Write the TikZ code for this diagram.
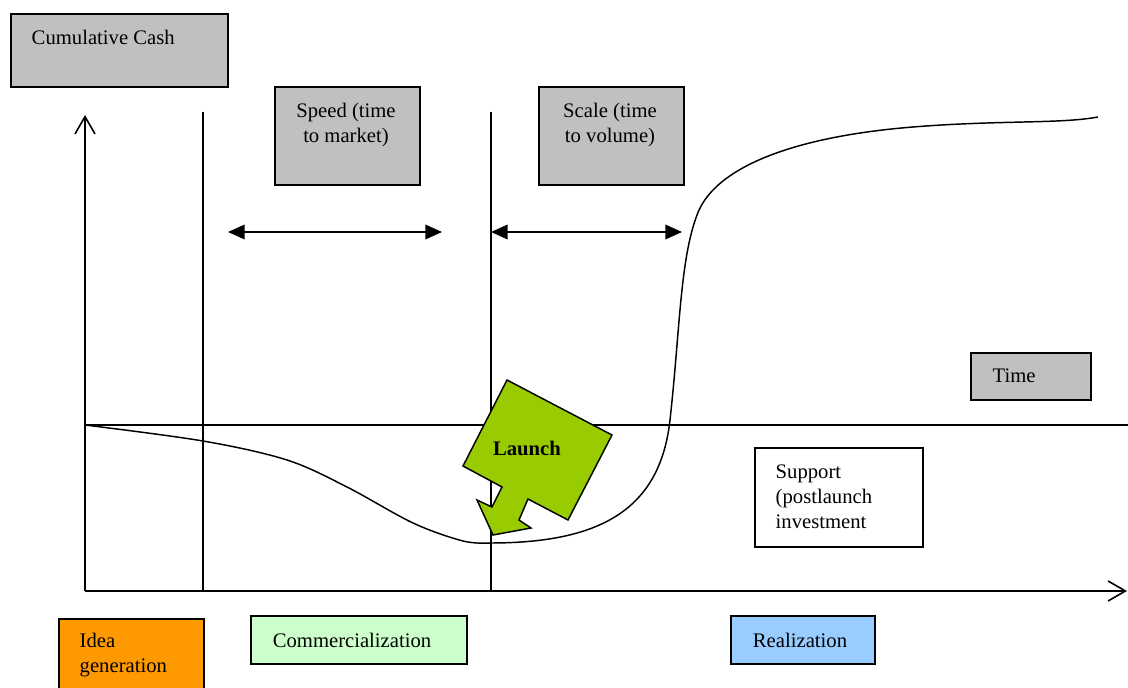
\documentclass[tikz,border=0pt]{standalone}
\usepackage{fontspec}
\setmainfont{Liberation Serif}
\usetikzlibrary{arrows.meta}
\definecolor{boxgray}{HTML}{C0C0C0}
\definecolor{ideaorange}{HTML}{FF9900}
\definecolor{commgreen}{HTML}{CCFFCC}
\definecolor{realblue}{HTML}{99CCFF}
\definecolor{launchgreen}{HTML}{99CC00}
\begin{document}
\begin{tikzpicture}[x=0.75pt,y=-0.75pt,line width=1.1pt,
  every node/.style={font=\fontsize{15.5}{18.6}\selectfont},
  panel/.style={draw,line width=1.3pt,inner sep=0pt,anchor=north west},
  lbl/.style={inner sep=0pt,align=left},
  clbl/.style={inner sep=0pt,align=center},
  axis/.style={-{Straight Barb[length=13pt,width=15pt]},line width=1.2pt},
  span/.style={{Triangle[length=12.5pt,width=11pt]}-{Triangle[length=12.5pt,width=11pt]},line width=1.1pt},
  curve/.style={line width=1.1pt}]
\clip (0,0) rectangle (1128,688);

% boxes
\node[panel,fill=boxgray,minimum width=162.75pt,minimum height=54.75pt] (cash) at (10,13) {};
\node[lbl,anchor=base west] (cashtxt) at (31,45) {Cumulative Cash};
\node[panel,fill=boxgray,minimum width=108.75pt,minimum height=73.5pt] (speed) at (274,86) {};
\node[clbl] (speedtxt) at (346,125) {Speed (time\\to market)};
\node[panel,fill=boxgray,minimum width=108.75pt,minimum height=73.5pt] (scale) at (538,86) {};
\node[clbl] (scaletxt) at (610,125) {Scale (time\\to volume)};
\node[panel,fill=boxgray,minimum width=90pt,minimum height=35.25pt] (time) at (970,352) {};
\node[lbl,anchor=west] (timetxt) at (992,376) {Time};
\node[panel,fill=white,minimum width=126pt,minimum height=74.25pt] (support) at (754,447) {};
\node[lbl,anchor=west] (supporttxt) at (775,497) {Support\\(postlaunch\\investment};
\node[panel,fill=ideaorange,minimum width=108.75pt,minimum height=61.5pt] (idea) at (58,618) {};
\node[lbl,anchor=west,font=\fontsize{15.5}{18.8}\selectfont] (ideatxt) at (79,655) {Idea\\generation};
\node[panel,fill=commgreen,minimum width=162pt,minimum height=36pt] (comm) at (250,615) {};
\node[clbl] (commtxt) at (352,640) {Commercialization};
\node[panel,fill=realblue,minimum width=108pt,minimum height=36pt] (real) at (730,615) {};
\node[clbl] (realtxt) at (800,640) {Realization};

% axes and guide lines
\coordinate (o) at (85,591);
\coordinate (ytop) at (85,115);
\coordinate (xend) at (1127,591);
\coordinate (z0) at (85,425);
\coordinate (z1) at (1128,425);
\coordinate (va0) at (203,112);
\coordinate (va1) at (203,591);
\coordinate (vb0) at (491,112);
\coordinate (vb1) at (491,591);
\draw[axis] (o) -- (ytop);
\draw[axis] (o) -- (xend);
\draw (z0) -- (z1);
\draw (va0) -- (va1);
\draw (vb0) -- (vb1);

% span arrows
\coordinate (s1a) at (228,232);
\coordinate (s1b) at (442,232);
\coordinate (s2a) at (491,232);
\coordinate (s2b) at (682,232);
\draw[span] (s1a) -- (s1b);
\draw[span] (s2a) -- (s2b);

% cumulative cash curve
\draw[curve] plot[smooth,tension=0.55] coordinates {(85,425) (203,441) (287,460) (347,487) (413,523) (463,541) (490,543)};
\draw[curve] (490,543) .. controls (600,543) and (660,510) .. (670,420)
  .. controls (680,330) and (680,260) .. (697,215)
  .. controls (715,165) and (800,136) .. (913,127)
  .. controls (1000,120) and (1060,124) .. (1098,117);

% launch arrow
\draw[fill=launchgreen,line width=1.1pt,line join=miter]
  (507,380) -- (612,435) -- (568,520) -- (528,499) -- (519,520) -- (531,528)
  -- (493,535) -- (477,500) -- (492,507) -- (502,487) -- (463,466) -- cycle;
\node[clbl,font=\fontsize{15.5}{18.6}\selectfont\bfseries] (launch) at (527,448) {Launch};
\end{tikzpicture}
\end{document}
